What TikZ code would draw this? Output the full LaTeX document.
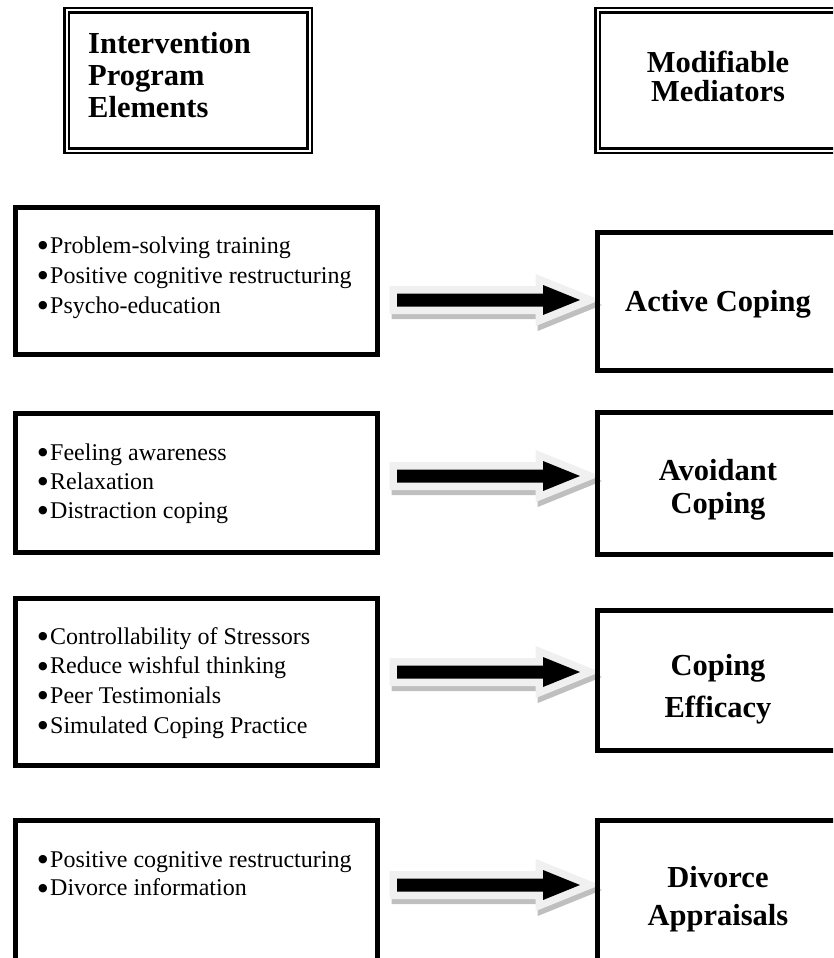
\documentclass[tikz,border=0pt]{standalone}
\usepackage{fontspec}
\setmainfont{Liberation Serif}
\newfontfamily\symfont{DejaVu Sans}
\usetikzlibrary{calc}
\pgfdeclarelayer{background}
\pgfsetlayers{background,main}
\definecolor{arrlight}{HTML}{F0F0F0}
\definecolor{arrshadow}{HTML}{BFBFBF}
\tikzset{
  headbox/.style={draw, line width=2.5pt, double=white, double distance=2pt, inner sep=0pt,
                  minimum width=243pt, minimum height=140pt},
  itembox/.style={draw, line width=5pt, inner sep=0pt, minimum width=362pt},
  medbox/.style={draw, line width=5pt, inner sep=0pt, minimum width=241pt},
  itemtext/.style={anchor=base west, inner sep=0pt},
  boldtext/.style={anchor=base, inner sep=0pt, font=\bfseries},
  headtext/.style={anchor=base west, inner sep=0pt, font=\bfseries},
}
\newcommand\bul{\makebox[12pt][l]{\raisebox{4.5pt}{\fontsize{11}{11}\symfont ●}}}
\newcommand\itemlines[2]{\parbox[t]{330pt}{\fontsize{24}{#1}\selectfont\raggedright #2}}
\newcommand\boldlines[2]{\parbox[t]{230pt}{\fontsize{30.5}{#1}\selectfont\centering #2}}
\newcommand\blockarrow[2]{%
  \path[transform canvas={shift={(2pt,-5pt)}}, draw=arrshadow, fill=arrshadow, line width=15pt, line join=miter]
    ($(#1)+(0,-6.5)$) -- ($(#2)+(-37,-6.5)$) -- ($(#2)+(-37,-15)$) -- (#2) -- ($(#2)+(-37,15)$) -- ($(#2)+(-37,6.5)$) -- ($(#1)+(0,6.5)$) -- cycle;
  \path[draw=arrlight, fill=arrlight, line width=15pt, line join=miter]
    ($(#1)+(0,-6.5)$) -- ($(#2)+(-37,-6.5)$) -- ($(#2)+(-37,-15)$) -- (#2) -- ($(#2)+(-37,15)$) -- ($(#2)+(-37,6.5)$) -- ($(#1)+(0,6.5)$) -- cycle;
  \fill[black]
    ($(#1)+(0,-6.5)$) -- ($(#2)+(-37,-6.5)$) -- ($(#2)+(-37,-15)$) -- (#2) -- ($(#2)+(-37,15)$) -- ($(#2)+(-37,6.5)$) -- ($(#1)+(0,6.5)$) -- cycle;
}
\begin{document}
\begin{tikzpicture}[x=1pt, y=-1pt]
\useasboundingbox (0,0) rectangle (833,958);
\clip (0,0) rectangle (833,958);

% header boxes
\node[headbox] (hl) at (188,80.5) {};
\node[headbox] (hr) at (719,80.5) {};
\node[headtext] (tl) at (88,53) {\parbox[t]{210pt}{\fontsize{30.5}{32.5}\selectfont\raggedright Intervention\\Program\\Elements}};
\node[boldtext] (tr) at (718,72) {\boldlines{29}{Modifiable\\Mediators}};

% left boxes
\node[itembox, minimum height=147pt] (b1) at (196.5,281) {};
\node[itembox, minimum height=139pt] (b2) at (196.5,483) {};
\node[itembox, minimum height=167pt] (b3) at (196.5,682) {};
\node[itembox, minimum height=180pt] (b4) at (196.5,910.5) {};

\node[itemtext] (t1) at (38,253) {\itemlines{30}{\bul Problem-solving training\\\bul Positive cognitive restructuring\\\bul Psycho-education}};
\node[itemtext] (t2) at (38,460) {\itemlines{29}{\bul Feeling awareness\\\bul Relaxation\\\bul Distraction coping}};
\node[itemtext] (t3) at (38,644) {\itemlines{29.7}{\bul Controllability of Stressors\\\bul Reduce wishful thinking\\\bul Peer Testimonials\\\bul Simulated Coping Practice}};
\node[itemtext] (t4) at (38,867) {\itemlines{28.5}{\bul Positive cognitive restructuring\\\bul Divorce information}};

% right boxes
\node[medbox, minimum height=138pt] (c1) at (718,301.5) {};
\node[medbox, minimum height=142pt] (c2) at (718,483.5) {};
\node[medbox, minimum height=140pt] (c3) at (718,680.5) {};
\node[medbox, minimum height=152pt] (c4) at (718,896.5) {};

\node[boldtext] (m1) at (718,311) {\boldlines{40}{Active Coping}};
\node[boldtext] (m2) at (718,480) {\boldlines{33}{Avoidant\\Coping}};
\node[boldtext] (m3) at (718,675) {\boldlines{42}{Coping\\Efficacy}};
\node[boldtext] (m4) at (718,887) {\boldlines{38}{Divorce\\Appraisals}};

% arrow end points
\coordinate (a1s) at ($(b1.east |- c1.west)+(17,-1.5)$);
\coordinate (a1e) at ($(c1.west)+(-15,-1.5)$);
\coordinate (a2s) at ($(b2.east |- c2.west)+(17,-7.5)$);
\coordinate (a2e) at ($(c2.west)+(-15,-7.5)$);
\coordinate (a3s) at ($(b3.east |- c3.west)+(17,-8.5)$);
\coordinate (a3e) at ($(c3.west)+(-15,-8.5)$);
\coordinate (a4s) at ($(b4.east |- c4.west)+(17,-11.5)$);
\coordinate (a4e) at ($(c4.west)+(-15,-11.5)$);

\begin{pgfonlayer}{background}
\blockarrow{a1s}{a1e}
\blockarrow{a2s}{a2e}
\blockarrow{a3s}{a3e}
\blockarrow{a4s}{a4e}
\end{pgfonlayer}
\end{tikzpicture}
\end{document}
